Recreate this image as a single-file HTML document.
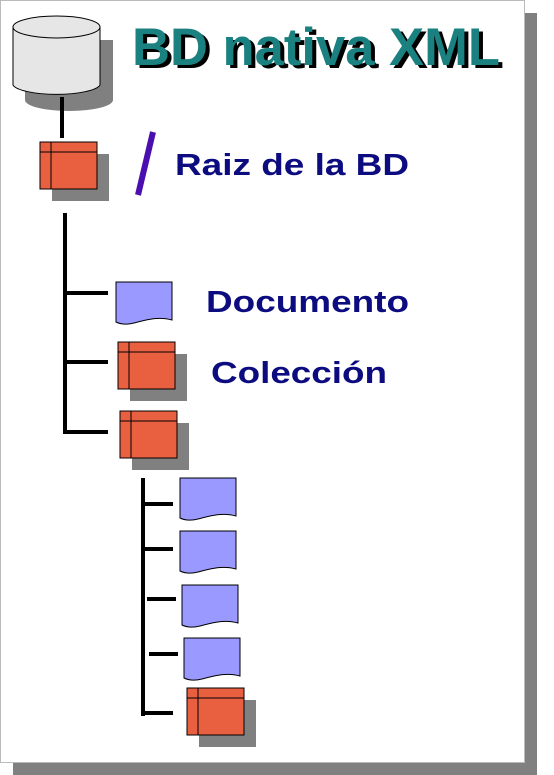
<!DOCTYPE html>
<html><head><meta charset="utf-8"><style>
body{margin:0;width:554px;height:775px;background:#fff;overflow:hidden}
</style></head><body>
<svg width="554" height="775" xmlns="http://www.w3.org/2000/svg" style="position:absolute;left:0;top:0">
<defs>
<g id="doc"><path d="M0,0 H56 V38 C42,34 30,38 18,41 C10,43 4,42 0,40 Z" fill="#9999ff" stroke="#000" stroke-width="1"/></g>
<g id="col">
<rect x="12" y="12" width="57" height="47" fill="#808080"/>
<rect x="0" y="0" width="57" height="47" fill="#e86040" stroke="#000" stroke-width="1"/>
<line x1="11" y1="0" x2="11" y2="47" stroke="#000"/>
<line x1="0" y1="10" x2="57" y2="10" stroke="#000"/>
</g>
</defs>
<rect x="13" y="13" width="524" height="762" fill="#808080"/>
<rect x="0.5" y="0.5" width="524" height="762" fill="#fff" stroke="#bbb"/>
<path d="M25,40 V100 A44,11 0 0 0 113,100 V40 Z" fill="#808080"/>
<path d="M13,27 V85 A44,11 0 0 0 100,85 V27 Z" fill="#e6e6e6" stroke="#000"/>
<ellipse cx="56.5" cy="27" rx="43.5" ry="11" fill="#e6e6e6" stroke="#000"/>
<text x="136" y="68" font-family="Liberation Sans, sans-serif" font-weight="bold" font-size="53" fill="#000" textLength="368" lengthAdjust="spacingAndGlyphs">BD nativa XML</text>
<text x="132" y="65" font-family="Liberation Sans, sans-serif" font-weight="bold" font-size="53" fill="#1a8080" textLength="368" lengthAdjust="spacingAndGlyphs">BD nativa XML</text>
<line x1="62" y1="97" x2="62" y2="138" stroke="#000" stroke-width="4"/>
<use href="#col" x="40" y="142"/>
<line x1="153" y1="132" x2="138" y2="195" stroke="#4b0fb0" stroke-width="6"/>
<g font-family="Liberation Sans, sans-serif" font-weight="bold" font-size="31" fill="#0c0c80">
<text x="175" y="175" textLength="234" lengthAdjust="spacingAndGlyphs">Raiz de la BD</text>
<text x="206" y="312" textLength="203" lengthAdjust="spacingAndGlyphs">Documento</text>
<text x="211" y="383" textLength="176" lengthAdjust="spacingAndGlyphs">Colección</text>
</g>
<g stroke="#000" stroke-width="4">
<line x1="65" y1="213" x2="65" y2="434"/>
<line x1="65" y1="293" x2="108" y2="293"/>
<line x1="65" y1="362" x2="108" y2="362"/>
<line x1="65" y1="432" x2="108" y2="432"/>
<line x1="143" y1="478" x2="143" y2="716"/>
<line x1="145" y1="504" x2="173" y2="504"/>
<line x1="145" y1="549" x2="173" y2="549"/>
<line x1="147" y1="599" x2="176" y2="599"/>
<line x1="149" y1="654" x2="178" y2="654"/>
<line x1="145" y1="713" x2="173" y2="713"/>
</g>
<use href="#doc" x="116" y="282"/>
<use href="#col" x="118" y="342"/>
<use href="#col" x="120" y="411"/>
<use href="#doc" x="180" y="478"/>
<use href="#doc" x="180" y="531"/>
<use href="#doc" x="182" y="585"/>
<use href="#doc" x="184" y="638"/>
<use href="#col" x="187" y="688"/>
</svg>
</body></html>
